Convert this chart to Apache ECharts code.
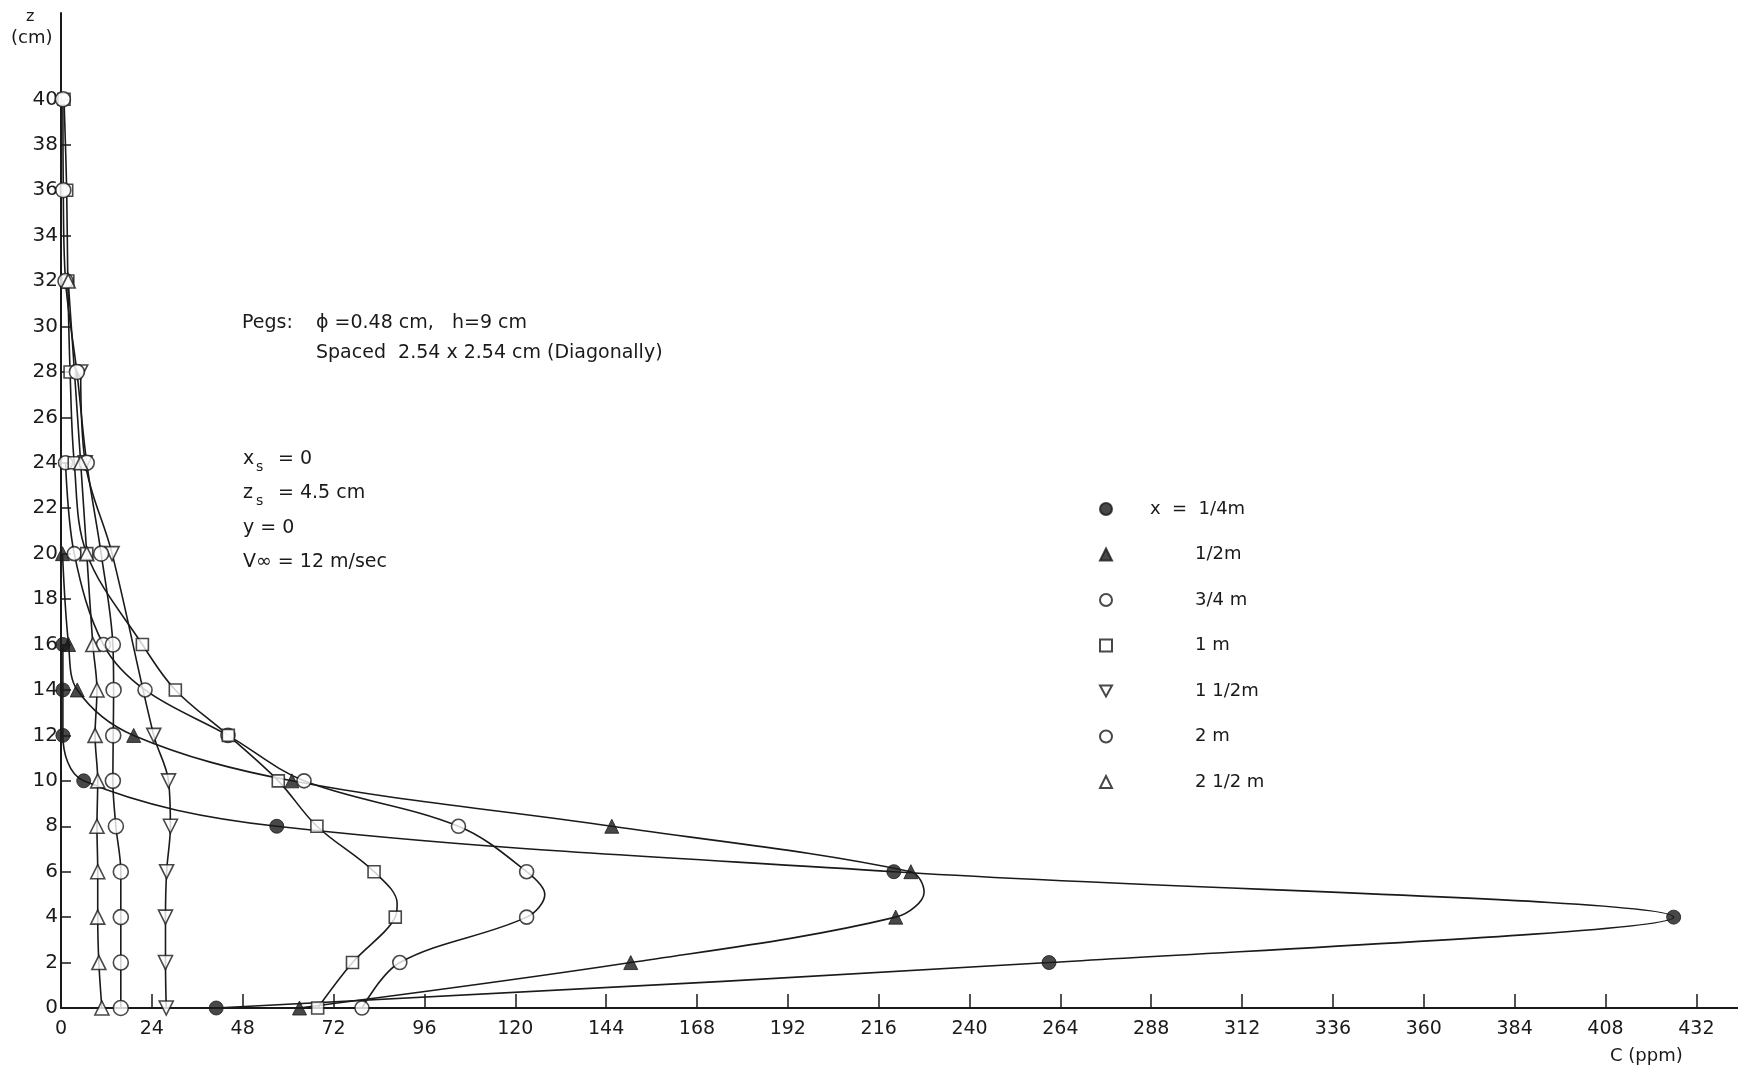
<!DOCTYPE html>
<html><head><meta charset="utf-8">
<script src="https://cdn.jsdelivr.net/npm/echarts@6/dist/echarts.min.js"></script>
<style>html,body{margin:0;padding:0;background:#fff}#c{width:1738px;height:1066px}</style>
</head><body><div id="c"></div>
<script>
// ---- tick labels ----
const xTickValues = [0,24,48,72,96,120,144,168,192,216,240,264,288,312,336,360,384,408,432];
const zTickValues = [0,2,4,6,8,10,12,14,16,18,20,22,24,26,28,30,32,34,36,38,40];

// ---- series names (x distance) ----
const seriesNames = ['x  =  1/4m','1/2m','3/4 m','1 m','1 1/2m','2 m','2 1/2 m'];

// ---- measured points: z (cm) and C (ppm) ----
const z_quarter = [0,2,4,6,8,10,12,14,16];
const c_quarter = [41,261,426,220,57,6,0.5,0.5,0.5];

const z_half = [0,2,4,6,8,10,12,14,16,20];
const c_half = [63,150.5,220.5,224.5,145.5,61,19.2,4.3,2,0.4];

const z_threeQuarter = [0,2,4,6,8,10,12,14,16,20,24];
const c_threeQuarter = [79.5,89.5,123,123,105,64.2,44.1,22.2,11.2,3.5,1.2];

const z_one = [0,2,4,6,8,10,12,14,16,20,24,28,32,36,40];
const c_one = [67.8,77,88.3,82.7,67.6,57.4,44.2,30.2,21.5,6.8,3.5,2.4,1.8,1.5,0.8];

const z_oneHalf = [0,2,4,6,8,10,12,20,24,28];
const c_oneHalf = [27.8,27.6,27.6,27.9,28.9,28.4,24.5,13.5,6.4,5.2];

const z_two = [0,2,4,6,8,10,12,14,16,20,24,28,32,36,40];
const c_two = [15.8,15.8,15.8,15.8,14.5,13.7,13.8,13.9,13.7,10.6,6.8,4.2,1.2,0.6,0.5];

const z_twoHalf = [0,2,4,6,8,10,12,14,16,20,24,32];
const c_twoHalf = [10.8,10,9.7,9.7,9.5,9.7,9.0,9.5,8.4,6.8,5.2,1.9];

// ---- apex of drawn curves between z=4 and z=6 ----
const apex_half = [228, 5.1];
const apex_threeQuarter = [127.8, 5.0];
const apex_one = [88.8, 4.6];

// ---- build ----
const FONT = 'DejaVu Sans';
const INK = '#1a1a1a';
function pairs(cs, zs){ return zs.map((z,i)=>[cs[i], z]); }
function withApex(p, apex){
  if(!apex) return p;
  const out = p.slice(); out.push(apex);
  return out.sort((a,b)=>a[1]-b[1]);
}

const defs = [
  {name: seriesNames[0], c: c_quarter, z: z_quarter, symbol:'circle', size:14, filled:true},
  {name: seriesNames[1], c: c_half, z: z_half, symbol:'triangle', size:14, filled:true, apex:apex_half},
  {name: seriesNames[2], c: c_threeQuarter, z: z_threeQuarter, symbol:'circle', size:14, filled:false, apex:apex_threeQuarter},
  {name: seriesNames[3], c: c_one, z: z_one, symbol:'rect', size:12, filled:false, apex:apex_one},
  {name: seriesNames[4], c: c_oneHalf, z: z_oneHalf, symbol:'triangle', size:14, filled:false, rotate:180},
  {name: seriesNames[5], c: c_two, z: z_two, symbol:'circle', size:15, filled:false},
  {name: seriesNames[6], c: c_twoHalf, z: z_twoHalf, symbol:'triangle', size:14, filled:false}
];

const series = [];
defs.forEach(d => {
  series.push({
    type:'scatter', name:d.name, data:pairs(d.c, d.z),
    symbol:d.symbol, symbolSize:d.size, symbolRotate:d.rotate||0,
    itemStyle: d.filled ? {color:INK, borderColor:INK, borderWidth:1} : {color:'#fff', borderColor:INK, borderWidth:1.6},
    z:5, clip:false, silent:true
  });
});
defs.forEach(d => {
  series.push({
    type:'line', name:d.name, data:withApex(pairs(d.c, d.z), d.apex),
    symbol:'none', smooth:0.35, lineStyle:{color:INK, width:1.6},
    itemStyle:{color:INK}, z:3, clip:false, silent:true
  });
});

const legendData = seriesNames.map((n,i) => {
  const item = {name:n};
  if (i === 0) item.textStyle = {padding:[0,0,0,33]};
  if (i === 4) item.icon = 'path://M0,0L10,0L5,9Z';
  return item;
});

const txt = (x, y, s, size) => ({
  type:'text', left:x, top:y,
  style:{text:s, font: (size||19) + 'px "' + FONT + '"', fill:INK}
});

const option = {
  backgroundColor:'#fff',
  animation:false,
  grid:{left:61, right:0, top:13, bottom:58},
  xAxis:{
    type:'value', min:0, max:443,
    splitLine:{show:false},
    axisLine:{lineStyle:{color:INK, width:2}},
    axisTick:{inside:true, length:14, customValues:xTickValues, lineStyle:{color:INK, width:1.5}},
    axisLabel:{customValues:xTickValues, fontSize:19, fontFamily:FONT, color:INK, margin:12}
  },
  yAxis:{
    type:'value', min:0, max:43.8,
    splitLine:{show:false},
    axisLine:{lineStyle:{color:INK, width:2}},
    axisTick:{inside:true, length:10, customValues:zTickValues, lineStyle:{color:INK, width:1.5}},
    axisLabel:{customValues:zTickValues, fontSize:20, fontFamily:FONT, color:INK, margin:3}
  },
  legend:{
    orient:'vertical', left:1099, top:500, padding:0,
    itemWidth:12, itemHeight:12, itemGap:27.5, symbolRotate:0,
    selectedMode:false,
    textStyle:{fontSize:18, fontFamily:FONT, color:INK, padding:[0,0,0,78]},
    data:legendData
  },
  graphic:[
    txt(26, 9, 'z', 16),
    txt(11, 29, '(cm)', 18),
    txt(1610, 1047, 'C (ppm)', 18),
    txt(242, 314, 'Pegs:', 19),
    txt(316, 314, '\u03D5 =0.48 cm,   h=9 cm', 19),
    txt(316, 344, 'Spaced  2.54 x 2.54 cm (Diagonally)', 19),
    txt(243, 450, 'x', 19),
    txt(256, 460, 's', 14),
    txt(278, 450, '= 0', 19),
    txt(243, 484, 'z', 19),
    txt(256, 494, 's', 14),
    txt(278, 484, '= 4.5 cm', 19),
    txt(243, 519, 'y = 0', 19),
    txt(243, 553, 'V\u221E = 12 m/sec', 19)
  ],
  series: series
};

const chart = echarts.init(document.getElementById('c'), null, {renderer:'canvas'});
chart.setOption(option);
</script>
</body></html>
